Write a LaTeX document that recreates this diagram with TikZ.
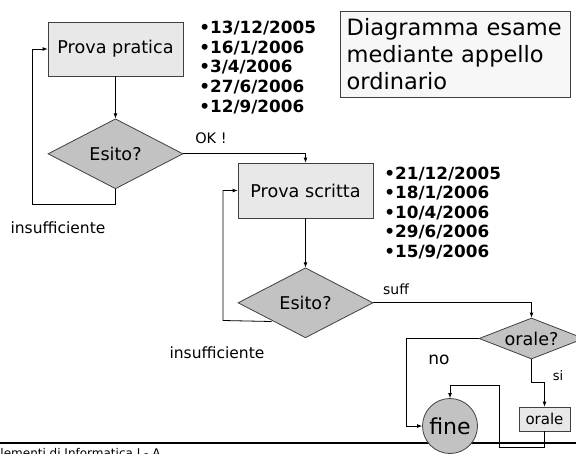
\documentclass[tikz,border=0pt]{standalone}
\usepackage{fontspec}
\setmainfont{DejaVu Sans}
\usepackage{tikz}
\usetikzlibrary{arrows.meta,positioning,shapes.geometric}

\begin{document}
\begin{tikzpicture}[
    x=1pt, y=-1pt,
    line width=0.8pt,
    box/.style={draw=black!75, fill=black!9, minimum width=135pt, minimum height=54pt,
                inner sep=0pt, align=center, font=\fontsize{17.6}{20}\selectfont},
    decision/.style={diamond, draw=black!75, fill=black!24, aspect=2, inner sep=0pt,
                     minimum width=135pt, minimum height=70pt, font=\fontsize{17.6}{20}\selectfont},
    dates/.style={anchor=west, align=left, inner sep=0pt,
                  font=\fontsize{16.8}{19.6}\selectfont\bfseries},
    lbl/.style={inner sep=0pt, font=\fontsize{15.5}{18}\selectfont},
    arr/.style={-{Latex[length=5pt,width=4pt]}, line width=0.8pt}
]
\useasboundingbox (0,0) rectangle (576,453);

%% Footer rule
\coordinate (ruleL) at (0,443);
\coordinate (ruleR) at (576,443);
\draw[line width=1.2pt] (ruleL) -- (ruleR);
\node[anchor=north west, inner sep=0pt, font=\fontsize{12}{14}\selectfont] (footer)
  at (-7.5,447.5) {Elementi di Informatica I - A};

%% Title
\node[draw=black!75, fill=black!3, text width=218pt, inner xsep=6pt, inner ysep=2pt,
      minimum height=86pt, align=left, font=\fontsize{22.5}{27}\selectfont] (title)
  at (455.7,53.9) {Diagramma esame\\mediante appello\\ordinario};

%% Prova pratica
\node[box] (pratica) at (115.5,49) {Prova pratica};
\node[decision, below=42pt of pratica] (esito1) {Esito?};
\node[dates] (datepr) at (199,67.5)
  {•13/12/2005\\•16/1/2006\\•3/4/2006\\•27/6/2006\\•12/9/2006};
\draw[arr] (pratica) -- (esito1);
\coordinate (fb1) at (32,204);
\draw[arr] (esito1.south) |- (fb1) |- (pratica.west);
\node[lbl] (ins1) at (58,228) {insufficiente};

%% Prova scritta
\node[box, minimum height=55pt] (scritta) at (305.5,190.5) {Prova scritta};
\node[decision, below=49pt of scritta] (esito2) {Esito?};
\node[dates] (datesc) at (384,212.8)
  {•21/12/2005\\•18/1/2006\\•10/4/2006\\•29/6/2006\\•15/9/2006};
\draw[arr] (esito1.east) -| (scritta.north);
\node[lbl, font=\fontsize{14.5}{16}\selectfont] (ok) at (211,138) {OK !};
\draw[arr] (scritta) -- (esito2);
\coordinate (fb2) at (223,320.5);
\draw[arr] ([yshift=-1pt]esito2.south west) -- (fb2) |- (scritta.west);
\node[lbl] (ins2) at (217,353) {insufficiente};

%% Orale
\node[decision, aspect=2.5, minimum width=105pt, minimum height=41pt] (oraleq)
  at (531.5,338.5) {orale?};
\node[box, minimum width=51pt, minimum height=24pt, font=\fontsize{15}{17}\selectfont] (orale)
  at (544.5,419) {orale};
\node[circle, draw=black!75, fill=black!24, minimum size=55pt, inner sep=0pt,
      font=\fontsize{22}{24}\selectfont] (fine) at (450,426) {fine};
\draw[arr] (esito2.east) -| (oraleq.north);
\node[lbl, font=\fontsize{14}{16}\selectfont] (suff) at (396,289) {suff};
\coordinate (nobend) at (406,426);
\draw[arr] (oraleq.west) -| (nobend) -- (fine.west);
\node[lbl, font=\fontsize{17}{19}\selectfont] (no) at (439,360) {no};
\draw[arr] (oraleq.south) -- ++(0,23) -| (orale.north);
\node[lbl, font=\fontsize{13}{15}\selectfont] (si) at (558,376) {si};
\coordinate (back1) at (499,447);
\coordinate (back2) at (499,385);
\draw[arr] (orale.south) |- (back1) -- (back2) -| (fine.north);

\end{tikzpicture}
\end{document}
